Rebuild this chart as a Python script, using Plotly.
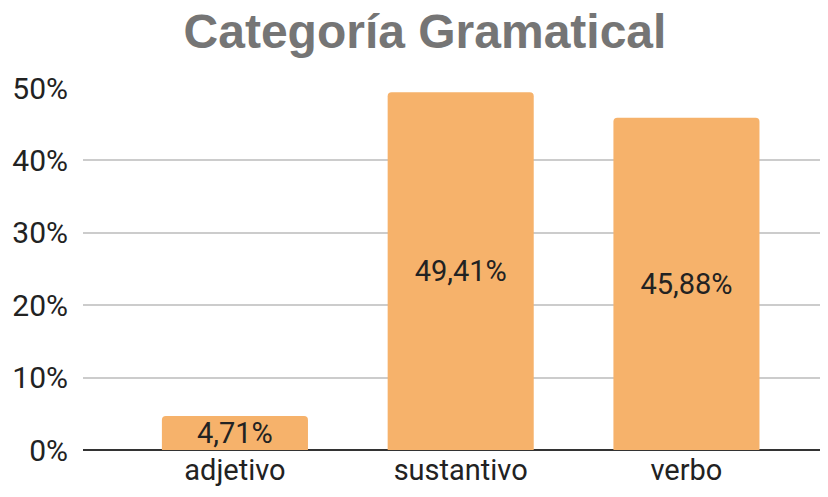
import plotly.graph_objects as go

categorias = ['adjetivo', 'sustantivo', 'verbo']
porcentajes = [4.71, 49.41, 45.88]
etiquetas = [f"{v:.2f}".replace('.', ',') + '%' for v in porcentajes]
marcas_y = [0, 10, 20, 30, 40, 50]
textos_y = [f"{v}%" for v in marcas_y]

fig = go.Figure()
fig.add_trace(go.Bar(
    x=categorias, y=porcentajes,
    text=etiquetas, textposition='inside', insidetextanchor='middle',
    constraintext='none',
    textfont=dict(family='Roboto', size=29, color='#222222'),
    marker=dict(color='#F6B26B', cornerradius=4, line=dict(width=0)),
    width=0.647,
    hoverinfo='skip',
))

# la página tiene 8px de margen en el body, así que la figura se ajusta
fig.update_layout(
    width=820, height=489,
    margin=dict(l=75, r=0, t=80, b=47),
    paper_bgcolor='white', plot_bgcolor='white',
    showlegend=False,
    uniformtext=dict(minsize=29, mode='show'),
    title=dict(
        text='<b>Categoría Gramatical</b>',
        font=dict(family='Liberation Sans, Arial', size=48, color='#757575'),
        x=0.5085, xanchor='center', xref='container',
        y=0.953, yanchor='middle', yref='container',
    ),
    xaxis=dict(
        range=[-0.673, 2.627], showgrid=False, zeroline=False,
        showline=False, ticks='', ticklen=0, automargin=False,
        tickfont=dict(family='Roboto', size=29, color='#222222'),
    ),
    yaxis=dict(
        range=[0, 50], tickvals=marcas_y, ticktext=textos_y,
        showgrid=True, gridcolor='#cccccc', gridwidth=1.5,
        zeroline=True, zerolinecolor='#333333', zerolinewidth=2,
        showline=False, ticks='', ticklabelstandoff=14, automargin=False,
        tickfont=dict(family='Roboto', size=30, color='#222222'),
    ),
)

fig.write_html("out.html")
